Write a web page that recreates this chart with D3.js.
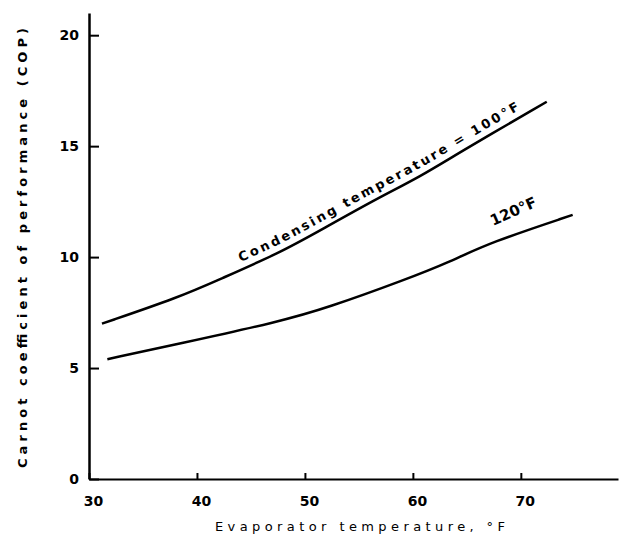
<!DOCTYPE html>
<html>
<head>
<meta charset="utf-8">
<script src="https://cdn.jsdelivr.net/npm/d3@7"></script>
<style>
  body { margin: 0; background: #fff; }
  svg { display: block; }
  text { font-family: "DejaVu Sans", sans-serif; fill: #000; }
</style>
</head>
<body>
<svg id="chart" width="626" height="541"></svg>
<script>
// readings of the two curves (evaporator temp degF, COP)
let cond100X = [31.2, 38.4, 42.1, 47.7, 51.4, 56.9, 60.6, 64.6, 72.4];
let cond100Y = [7.0, 8.2, 9.0, 10.2, 11.2, 12.7, 13.6, 14.8, 17.0];
let cond120X = [31.7, 38.4, 47.7, 52.0, 59.4, 63.5, 67.1, 74.8];
let cond120Y = [5.4, 6.1, 7.1, 7.7, 9.0, 9.8, 10.65, 11.9];

let xTicks = [30, 40, 50, 60, 70];
let yTicks = [0, 5, 10, 15, 20];

let svg = d3.select('#chart');

let x = d3.scaleLinear().domain([30, 79]).range([89, 618]);
let y = d3.scaleLinear().domain([0, 21]).range([479, 13]);

// axes
let xAxis = svg.append('g')
    .attr('transform', 'translate(0,' + y(0) + ')')
    .call(d3.axisBottom(x).tickValues(xTicks).tickSizeInner(-6).tickSizeOuter(0));
xAxis.select('.domain').attr('stroke-width', 2);
xAxis.selectAll('.tick line').attr('stroke-width', 2);
xAxis.selectAll('.tick text')
    .attr('dx', 4)
    .attr('y', 17)
    .style('font-size', '14px')
    .style('font-weight', 'bold');

let yAxis = svg.append('g')
    .attr('transform', 'translate(' + x(30) + ',0)')
    .call(d3.axisLeft(y).tickValues(yTicks).tickSizeInner(-10).tickSizeOuter(0));
yAxis.select('.domain').attr('stroke-width', 2.5);
yAxis.selectAll('.tick line').attr('stroke-width', 2);
yAxis.selectAll('.tick text')
    .attr('x', -10)
    .style('font-size', '14px')
    .style('font-weight', 'bold');

// curves
let line = d3.line()
    .x(d => x(d[0]))
    .y(d => y(d[1]))
    .curve(d3.curveBasis);

let upper = d3.zip(cond100X, cond100Y);
let lower = d3.zip(cond120X, cond120Y);

svg.append('path')
    .attr('d', line(upper))
    .attr('fill', 'none')
    .attr('stroke', '#000')
    .attr('stroke-width', 2.5);

svg.append('path')
    .attr('d', line(lower))
    .attr('fill', 'none')
    .attr('stroke', '#000')
    .attr('stroke-width', 2.5);

// label path sitting just above the upper curve
let labelPath = svg.append('path')
    .attr('id', 'condLabel')
    .attr('d', line(upper))
    .attr('transform', 'translate(0,-8)')
    .attr('fill', 'none')
    .attr('stroke', 'none');

let node = labelPath.node();
let total = node.getTotalLength();
let startLen = 0;
while (startLen < total && node.getPointAtLength(startLen).x < 240) startLen += 1;

svg.append('text')
    .style('font-size', '13px')
    .style('font-weight', 'bold')
    .append('textPath')
    .attr('href', '#condLabel')
    .attr('startOffset', startLen)
    .attr('textLength', 318)
    .text('Condensing temperature = 100°F');

svg.append('text')
    .attr('transform', 'translate(493,226) rotate(-24)')
    .style('font-size', '15px')
    .style('font-weight', 'bold')
    .text('120°F');

// axis titles
svg.append('text')
    .attr('transform', 'translate(27,248) rotate(-90)')
    .attr('text-anchor', 'middle')
    .attr('textLength', 440)
    .style('font-size', '13px')
    .style('font-weight', 'bold')
    .text('Carnot coefficient of performance (COP)');

svg.append('text')
    .attr('x', 360)
    .attr('y', 531)
    .attr('text-anchor', 'middle')
    .attr('textLength', 290)
    .style('font-size', '13px')
    .text('Evaporator temperature, °F');
</script>
</body>
</html>
